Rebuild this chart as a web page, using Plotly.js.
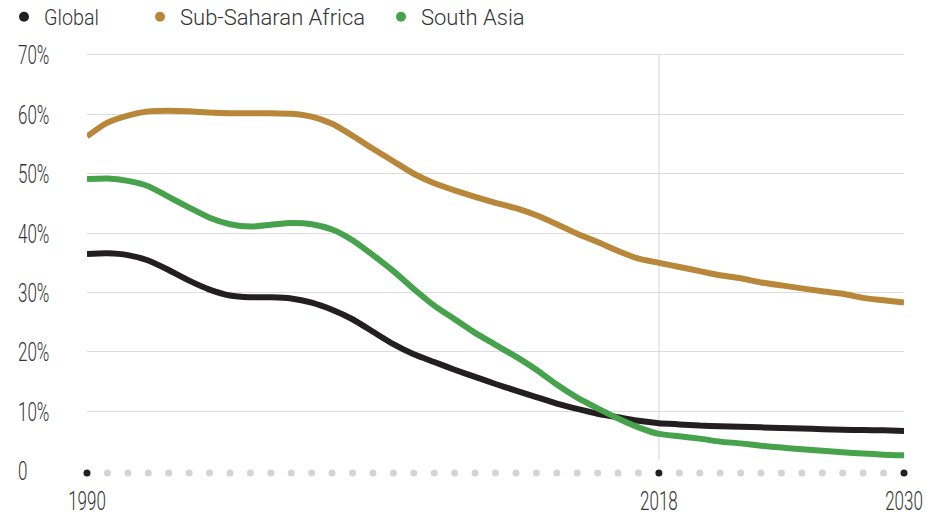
<!DOCTYPE html>
<html><head><meta charset="utf-8">
<script src="https://cdn.plot.ly/plotly-3.0.1.min.js"></script>
<style>html,body{margin:0;padding:0;background:#fff}#chart{width:933px;height:516px}</style>
</head><body><div id="chart"></div>
<script>
const years = [];
for (let y = 1990; y <= 2030; y++) years.push(y);

const globalVals = [36.5,36.6,36.3,35.4,33.8,32.0,30.5,29.5,29.2,29.2,29.0,28.3,27.1,25.5,23.4,21.3,19.6,18.3,17.0,15.8,14.6,13.5,12.4,11.3,10.4,9.6,9.0,8.4,8.0,7.8,7.6,7.5,7.4,7.3,7.2,7.1,7.0,6.9,6.85,6.8,6.7];
const ssaVals = [56.3,58.6,59.8,60.5,60.6,60.5,60.3,60.2,60.2,60.2,60.1,59.6,58.4,56.4,54.2,52.1,50.0,48.4,47.2,46.1,45.1,44.2,43.0,41.5,39.9,38.5,37.0,35.7,35.0,34.3,33.6,32.9,32.4,31.7,31.2,30.7,30.2,29.8,29.1,28.7,28.3];
const southAsiaVals = [49.1,49.2,48.8,47.9,46.1,44.3,42.6,41.5,41.1,41.4,41.7,41.5,40.6,38.8,36.3,33.6,30.6,27.8,25.5,23.2,21.2,19.2,17.0,14.5,12.3,10.5,8.8,7.3,6.2,5.8,5.4,4.9,4.6,4.2,3.9,3.6,3.35,3.1,2.9,2.7,2.6];

const seriesNames = ['Global', 'Sub-Saharan Africa', 'South Asia'];
const seriesColors = ['#231f20', '#b8873a', '#46a34b'];
const seriesValues = [globalVals, ssaVals, southAsiaVals];

const xTickVals = [1990, 2018, 2030];
const xTickText = ['1990', '2018', '2030'];
const yTickVals = [0, 10, 20, 30, 40, 50, 60, 70];
const yTickText = ['0', '10%', '20%', '30%', '40%', '50%', '60%', '70%'];
const highlightYear = 2018;

const FONT = 'Roboto, "Liberation Sans", sans-serif';
const TXT = '#333333';
const legendIds = ['legend', 'legend2', 'legend3'];
const legendLeftPx = [4, 140, 381];
const legendTextWidthPx = [55, 163, 90];

const traces = [];
traces.push({
  x: years, y: years.map(() => -0.4), mode: 'markers', hoverinfo: 'skip', showlegend: false,
  cliponaxis: false,
  marker: { size: 7, color: years.map(y => xTickVals.includes(y) ? '#231f20' : '#d4d4d6') }
});
seriesNames.forEach((name, i) => {
  traces.push({
    x: years, y: seriesValues[i], mode: 'lines', name: name, showlegend: false,
    line: { color: seriesColors[i], width: 6, shape: 'spline', smoothing: 0.6 }
  });
});
seriesNames.forEach((name, i) => {
  traces.push({
    x: [null], y: [null], mode: 'markers', name: name, showlegend: true, legend: legendIds[i],
    marker: { size: 10, color: seriesColors[i] }
  });
});

const tickFont = { family: FONT, size: 25, color: TXT, weight: 300 };
const annotations = yTickVals.map((v, i) => ({
  x: 0, xref: 'paper', y: v, yref: 'y', xanchor: 'left', yanchor: 'middle', xshift: -71, yshift: -1,
  text: yTickText[i], showarrow: false, font: tickFont
}));

const layout = {
  width: 933, height: 516,
  margin: { l: 87, r: 29, t: 49, b: 34, autoexpand: false },
  paper_bgcolor: '#fff', plot_bgcolor: '#fff',
  showlegend: true,
  xaxis: { range: [1990, 2030], tickvals: xTickVals, ticktext: xTickText, showgrid: false, zeroline: false,
           showline: false, ticks: '', tickfont: tickFont, ticklabelstandoff: 2 },
  yaxis: { range: [-1.9, 71], tickvals: [10,20,30,40,50,60,70], showticklabels: false, showgrid: true,
           gridcolor: '#dcdcdc', gridwidth: 1, zeroline: false, showline: false, ticks: '' },
  shapes: [{ type: 'line', xref: 'x', yref: 'y', x0: highlightYear, x1: highlightYear, y0: 1.8, y1: 70,
             line: { color: '#d4d4d6', width: 1 }, layer: 'below' }],
  annotations: annotations
};
legendIds.forEach((id, i) => {
  layout[id] = { orientation: 'h', x: legendLeftPx[i] / 933, xref: 'container', xanchor: 'left',
                 y: 1 - 17 / 516, yref: 'container', yanchor: 'middle',
                 font: { family: FONT, size: 22, color: TXT, weight: 300 }, itemwidth: 30, bgcolor: 'rgba(0,0,0,0)' };
});

// condensed look: compress glyphs horizontally (text stays real text)
function condense(el, f, leftAlign, targetW) {
  if (el.getAttribute('data-condensed')) return;
  el.style.whiteSpace = 'normal';
  const L = el.getComputedTextLength();
  if (!L) return;
  if (leftAlign) {
    const bb = el.getBBox();
    el.setAttribute('text-anchor', 'start');
    el.setAttribute('x', bb.x);
  }
  el.setAttribute('textLength', targetW ? targetW : L * f);
  el.setAttribute('lengthAdjust', 'spacingAndGlyphs');
  el.setAttribute('data-condensed', '1');
}
function condenseAll() {
  const gd = document.getElementById('chart');
  gd.querySelectorAll('text.legendtext').forEach(el => {
    const idx = seriesNames.indexOf((el.textContent || '').trim());
    condense(el, 0.85, false, idx >= 0 ? legendTextWidthPx[idx] : null);
  });
  gd.querySelectorAll('.xtick text').forEach(el => condense(el, 0.68, false));
  gd.querySelectorAll('text.annotation-text').forEach(el => condense(el, 0.68, true));
}

Plotly.newPlot('chart', traces, layout, { displayModeBar: false, staticPlot: true }).then(gd => {
  condenseAll();
  gd.on('plotly_afterplot', condenseAll);
  requestAnimationFrame(condenseAll);
  setTimeout(condenseAll, 50);
  setTimeout(condenseAll, 300);
});
</script></body></html>
